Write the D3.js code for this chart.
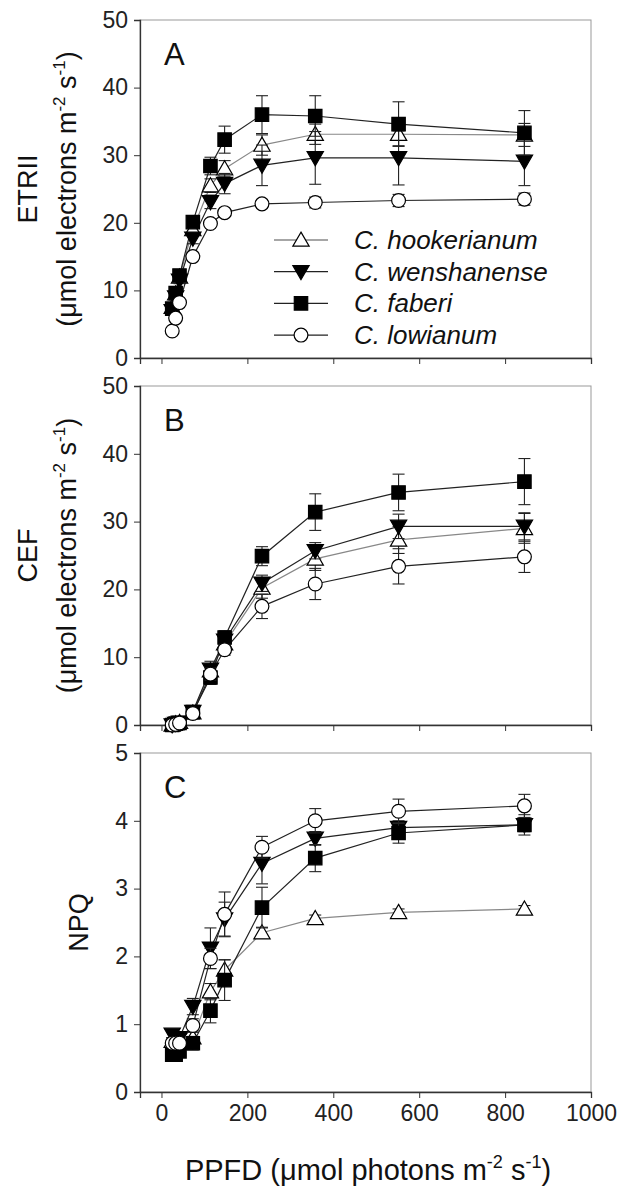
<!DOCTYPE html>
<html>
<head>
<meta charset="utf-8">
<script src="https://cdn.jsdelivr.net/npm/d3@7"></script>
<style>
  body { margin: 0; background: #fff; }
  svg { font-family: "Liberation Sans", Arial, sans-serif; }
</style>
</head>
<body>
<svg id="chart" width="620" height="1192"></svg>
<script>
// PPFD steps (x)
const ppfd = [25, 33, 42, 73, 114, 147, 234, 358, 552, 845];
const species = ["C. hookerianum", "C. wenshanense", "C. faberi", "C. lowianum"];
const xTicks = [0, 200, 400, 600, 800, 1000];

// panel A: ETRII
const etrHook = [7.5, 9.5, 12.0, 19.0, 25.5, 28.0, 31.5, 33.1, 33.1, 33.0];
const etrWen  = [7.0, 9.0, 11.5, 17.7, 23.1, 25.8, 28.5, 29.6, 29.6, 29.1];
const etrFab  = [7.3, 9.6, 12.2, 20.1, 28.4, 32.3, 36.0, 35.8, 34.6, 33.3];
const etrLow  = [4.0, 5.9, 8.2, 15.0, 19.9, 21.5, 22.8, 23.0, 23.3, 23.5];
const etrHookErr = [0.3, 0.4, 0.5, 0.8, 1.0, 1.2, 1.5, 1.5, 1.7, 1.7];
const etrWenErr  = [0.3, 0.4, 0.5, 0.8, 1.0, 1.5, 3.0, 3.9, 4.0, 3.6];
const etrFabErr  = [0.3, 0.4, 0.5, 0.8, 1.3, 2.0, 2.8, 3.0, 3.3, 3.3];
const etrLowErr  = [0.2, 0.3, 0.4, 0.5, 0.5, 0.5, 0.6, 0.8, 0.9, 0.9];

// panel B: CEF
const cefHook = [0, 0.2, 0.4, 1.8, 8.0, 12.0, 20.2, 24.5, 27.3, 29.0];
const cefWen  = [0, 0.2, 0.4, 2.0, 8.2, 12.5, 20.9, 25.7, 29.3, 29.3];
const cefFab  = [0, 0.2, 0.3, 1.9, 7.0, 12.9, 24.9, 31.4, 34.3, 35.9];
const cefLow  = [0, 0.1, 0.3, 1.7, 7.5, 11.1, 17.5, 20.8, 23.4, 24.8];
const cefHookErr = [0.1, 0.1, 0.2, 0.5, 1.0, 1.0, 1.5, 1.7, 2.0, 2.2];
const cefWenErr  = [0.1, 0.1, 0.2, 0.5, 1.2, 1.0, 1.2, 1.2, 1.8, 2.0];
const cefFabErr  = [0.1, 0.1, 0.2, 0.6, 1.0, 1.0, 1.4, 2.7, 2.7, 3.4];
const cefLowErr  = [0.1, 0.1, 0.2, 0.5, 0.9, 0.8, 1.8, 2.3, 2.6, 2.3];

// panel C: NPQ
const npqHook = [0.75, 0.72, 0.75, 0.80, 1.48, 1.80, 2.35, 2.56, 2.65, 2.70];
const npqWen  = [0.85, 0.80, 0.80, 1.26, 2.12, 2.55, 3.37, 3.74, 3.90, 3.94];
const npqFab  = [0.55, 0.55, 0.60, 0.72, 1.20, 1.65, 2.72, 3.45, 3.82, 3.94];
const npqLow  = [0.72, 0.72, 0.72, 0.98, 1.97, 2.62, 3.61, 4.00, 4.14, 4.22];
const npqHookErr = [0.05, 0.05, 0.05, 0.1, 0.12, 0.15, 0.08, 0.05, 0.05, 0.05];
const npqWenErr  = [0.05, 0.05, 0.05, 0.12, 0.3, 0.25, 0.3, 0.1, 0.1, 0.1];
const npqFabErr  = [0.05, 0.05, 0.05, 0.1, 0.18, 0.3, 0.3, 0.2, 0.15, 0.15];
const npqLowErr  = [0.05, 0.05, 0.05, 0.1, 0.15, 0.33, 0.16, 0.18, 0.18, 0.17];

const panels = [
    { letter: "A", top: 20, bottom: 358, max: 50, step: 10, title: "ETRII", unit: true,
      series: [etrHook, etrWen, etrFab, etrLow], errs: [etrHookErr, etrWenErr, etrFabErr, etrLowErr] },
    { letter: "B", top: 386, bottom: 725, max: 50, step: 10, title: "CEF", unit: true,
      series: [cefHook, cefWen, cefFab, cefLow], errs: [cefHookErr, cefWenErr, cefFabErr, cefLowErr] },
    { letter: "C", top: 753, bottom: 1092, max: 5, step: 1, title: "NPQ", unit: false,
      series: [npqHook, npqWen, npqFab, npqLow], errs: [npqHookErr, npqWenErr, npqFabErr, npqLowErr] }
];

const left = 140, right = 591;
const svg = d3.select("#chart");
const font = "'Liberation Sans', Arial, sans-serif";

const x = d3.scaleLinear().domain([-50, 1000]).range([left, right]);

// marker styles per species
const markers = [
    { type: d3.symbolTriangle, size: 115, rotate: 0, fill: "#fff" },
    { type: d3.symbolTriangle, size: 115, rotate: 180, fill: "#000" },
    { type: d3.symbolSquare, size: 180, rotate: 0, fill: "#000" },
    { type: d3.symbolCircle, size: 150, rotate: 0, fill: "#fff" }
];
const lineColors = ["#888", "#222", "#222", "#222"];

function drawMarker(g, i, cx, cy) {
    const m = markers[i];
    const shift = m.type === d3.symbolTriangle ? " translate(0,1.5)" : "";
    g.append("path")
        .attr("d", d3.symbol().type(m.type).size(m.size)())
        .attr("transform", `translate(${cx},${cy}) rotate(${m.rotate})` + shift)
        .attr("fill", m.fill)
        .attr("stroke", "#000")
        .attr("stroke-width", 1.2);
}

function unitLabel(t, size, supSize, lead, tail) {
    t.append("tspan").text(lead);
    t.append("tspan").attr("dy", -size * 0.4).attr("font-size", supSize).text("-2");
    t.append("tspan").attr("dy", size * 0.4).text(" s");
    t.append("tspan").attr("dy", -size * 0.4).attr("font-size", supSize).text("-1");
    t.append("tspan").attr("dy", size * 0.4).text(tail);
}

panels.forEach((p, pi) => {
    const y = d3.scaleLinear().domain([0, p.max]).range([p.bottom, p.top]);
    const g = svg.append("g");

    // frame
    g.append("rect")
        .attr("x", left).attr("y", p.top)
        .attr("width", right - left).attr("height", p.bottom - p.top)
        .attr("fill", "none").attr("stroke", "#999").attr("stroke-width", 1);

    // y axis
    const yAxis = g.append("g")
        .attr("transform", `translate(${left},0)`)
        .call(d3.axisLeft(y).tickValues(d3.range(0, p.max + p.step / 2, p.step))
            .tickFormat(d3.format("d")).tickSize(6).tickPadding(6));
    yAxis.select(".domain").attr("stroke", "#333").attr("stroke-width", 1.3);
    yAxis.selectAll(".tick line").attr("stroke", "#333");
    yAxis.selectAll("text").attr("font-size", 23).attr("fill", "#222").attr("font-family", font);

    // x axis
    const xAxis = g.append("g")
        .attr("transform", `translate(0,${p.bottom})`)
        .call(d3.axisBottom(x).tickValues(xTicks).tickSize(6).tickPadding(7)
            .tickFormat(pi === 2 ? d3.format("d") : ""));
    xAxis.select(".domain").attr("stroke", "#333").attr("stroke-width", 1.3);
    xAxis.selectAll(".tick line").attr("stroke", "#333");
    xAxis.selectAll("text").attr("font-size", 23).attr("fill", "#222").attr("font-family", font);

    // panel letter
    g.append("text")
        .attr("x", 164).attr("y", p.top + 45)
        .attr("font-size", 31).attr("fill", "#111")
        .text(p.letter);

    // y title
    const cy = (p.top + p.bottom) / 2;
    if (p.unit) {
        g.append("text")
            .attr("transform", `translate(37,${cy}) rotate(-90)`)
            .attr("text-anchor", "middle").attr("font-size", 27).attr("fill", "#111")
            .text(p.title);
        const t = g.append("text")
            .attr("transform", `translate(76,${cy}) rotate(-90)`)
            .attr("text-anchor", "middle").attr("font-size", 27).attr("fill", "#111");
        unitLabel(t, 27, 17, "(μmol electrons m", ")");
    } else {
        g.append("text")
            .attr("transform", `translate(88,${cy}) rotate(-90)`)
            .attr("text-anchor", "middle").attr("font-size", 27).attr("fill", "#111")
            .text(p.title);
    }

    // lines
    p.series.forEach((vals, si) => {
        g.append("path")
            .datum(vals.map((v, k) => [ppfd[k], v]))
            .attr("fill", "none")
            .attr("stroke", lineColors[si])
            .attr("stroke-width", 1.2)
            .attr("d", d3.line().x(d => x(d[0])).y(d => y(d[1])));
    });

    // error bars + markers per series
    p.series.forEach((vals, si) => {
        const errs = p.errs[si];
        vals.forEach((v, k) => {
            const cx = x(ppfd[k]);
            const y1 = y(v + errs[k]), y2 = y(Math.max(0, v - errs[k]));
            g.append("line").attr("x1", cx).attr("x2", cx).attr("y1", y1).attr("y2", y2)
                .attr("stroke", "#222").attr("stroke-width", 1.1);
            [y1, y2].forEach(yy => {
                g.append("line").attr("x1", cx - 6).attr("x2", cx + 6).attr("y1", yy).attr("y2", yy)
                    .attr("stroke", "#222").attr("stroke-width", 1.1);
            });
        });
        vals.forEach((v, k) => drawMarker(g, si, x(ppfd[k]), y(v)));
    });

    // legend in panel A
    if (pi === 0) {
        const lg = g.append("g");
        species.forEach((s, si) => {
            const ly = 240 + si * 31.7;
            lg.append("line").attr("x1", 274).attr("x2", 328).attr("y1", ly).attr("y2", ly)
                .attr("stroke", lineColors[si]).attr("stroke-width", 1.3);
            drawMarker(lg, si, 301, ly);
            lg.append("text")
                .attr("x", 354).attr("y", ly + 9)
                .attr("font-size", 26).attr("font-style", "italic").attr("fill", "#111")
                .text(s);
        });
    }
});

// x title
const xt = svg.append("text")
    .attr("x", 368).attr("y", 1180)
    .attr("text-anchor", "middle").attr("font-size", 29).attr("fill", "#111");
unitLabel(xt, 29, 18, "PPFD (μmol photons m", ")");
</script>
</body>
</html>
